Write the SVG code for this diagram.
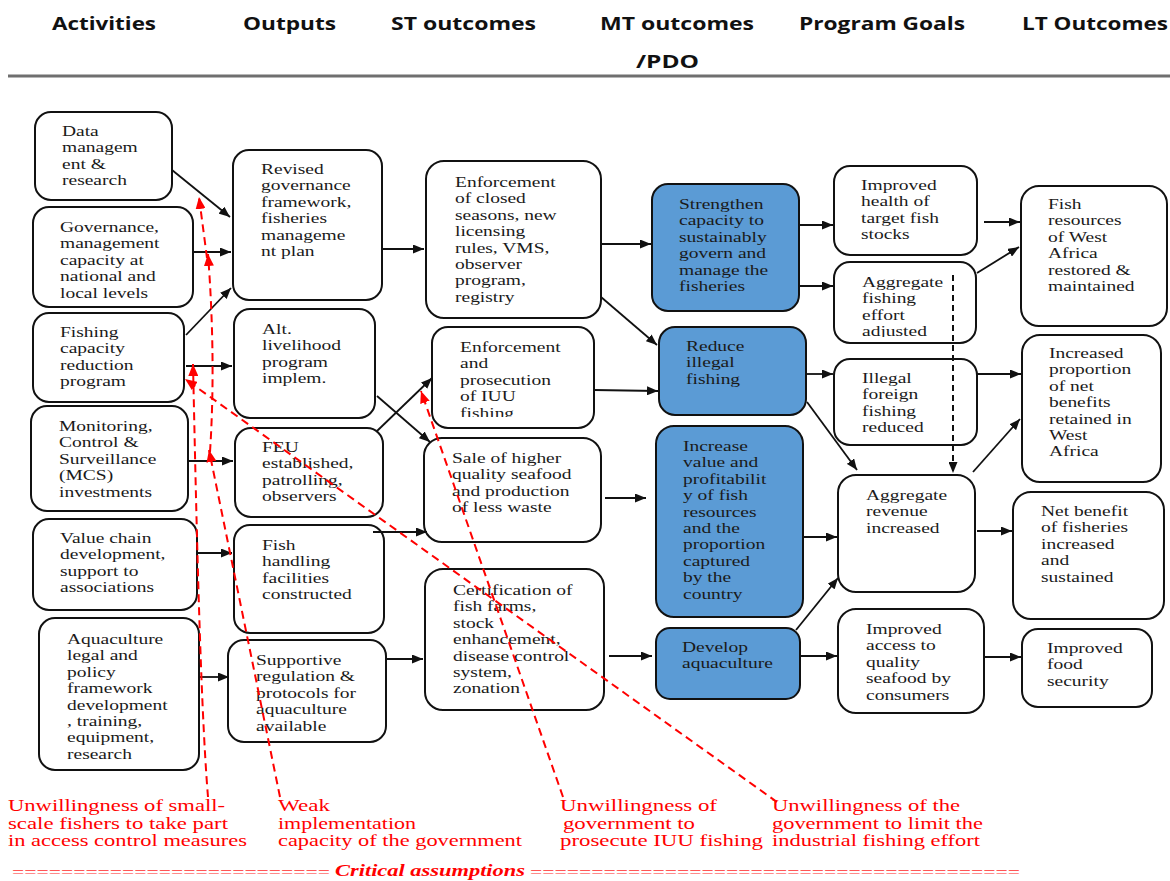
<svg xmlns="http://www.w3.org/2000/svg" width="1170" height="881" viewBox="0 0 1170 881">
<style>
.bx{fill:#fff;stroke:#111;stroke-width:2}
.bl{fill:#5b9bd5;stroke:#111;stroke-width:2}
.t{font-family:"Liberation Serif","Times New Roman",serif;font-size:15px;fill:#1a1a1a}
.hd{font-family:"Open Sans","Liberation Sans",sans-serif;font-size:18px;font-weight:bold;fill:#111}
.ar{fill:none;stroke:#111;stroke-width:1.8;marker-end:url(#ah)}
.dk{fill:none;stroke:#111;stroke-width:2;stroke-dasharray:6 4;marker-end:url(#ah)}
.rd{fill:none;stroke:#ff0000;stroke-width:2;stroke-dasharray:8 5;marker-end:url(#rh)}
.rt{font-family:"Liberation Serif","Times New Roman",serif;font-size:16px;fill:#ff0000}
.eq{font-family:"Liberation Serif","Times New Roman",serif;font-size:15px;fill:#ff3030}
</style>
<defs>
<marker id="ah" markerUnits="userSpaceOnUse" markerWidth="11" markerHeight="9" refX="11" refY="4.5" orient="auto"><path d="M0,0 L11,4.5 L0,9 z" fill="#111"/></marker>
<marker id="rh" markerUnits="userSpaceOnUse" markerWidth="12" markerHeight="10" refX="12" refY="5" orient="auto"><path d="M0,0 L12,5 L0,10 z" fill="#ff0000"/></marker>
<clipPath id="c13"><rect x="430" y="325" width="170" height="92"/></clipPath>
<clipPath id="c21"><rect x="830" y="260" width="150" height="77"/></clipPath>
</defs>
<rect x="0" y="0" width="1170" height="881" fill="#fff"/>
<g id="header">
<text class="hd" x="52" y="30" textLength="104" lengthAdjust="spacingAndGlyphs">Activities</text>
<text class="hd" x="243" y="30" textLength="93" lengthAdjust="spacingAndGlyphs">Outputs</text>
<text class="hd" x="391" y="30" textLength="145" lengthAdjust="spacingAndGlyphs">ST outcomes</text>
<text class="hd" x="600" y="30" textLength="154" lengthAdjust="spacingAndGlyphs">MT outcomes</text>
<text class="hd" x="799" y="30" textLength="166" lengthAdjust="spacingAndGlyphs">Program Goals</text>
<text class="hd" x="1022" y="30" textLength="146" lengthAdjust="spacingAndGlyphs">LT Outcomes</text>
<text class="hd" x="636" y="68" textLength="63" lengthAdjust="spacingAndGlyphs">/PDO</text>
<line x1="8" y1="76" x2="1170" y2="76" stroke="#6f6f6f" stroke-width="3"/>
</g>
<g id="n1"><rect class="bx" x="35" y="112" width="137" height="88" rx="16"/><g transform="translate(62,136) scale(1.3,1)"><text class="t"><tspan x="0" y="0">Data</tspan><tspan x="0" dy="16.4">managem</tspan><tspan x="0" dy="16.4">ent &amp;</tspan><tspan x="0" dy="16.4">research</tspan></text></g></g>
<g id="n2"><rect class="bx" x="33" y="207" width="160" height="100" rx="16"/><g transform="translate(60,232) scale(1.3,1)"><text class="t"><tspan x="0" y="0">Governance,</tspan><tspan x="0" dy="16.4">management</tspan><tspan x="0" dy="16.4">capacity at</tspan><tspan x="0" dy="16.4">national and</tspan><tspan x="0" dy="16.4">local levels</tspan></text></g></g>
<g id="n3"><rect class="bx" x="33" y="313" width="151" height="89" rx="16"/><g transform="translate(60,337) scale(1.3,1)"><text class="t"><tspan x="0" y="0">Fishing</tspan><tspan x="0" dy="16.4">capacity</tspan><tspan x="0" dy="16.4">reduction</tspan><tspan x="0" dy="16.4">program</tspan></text></g></g>
<g id="n4"><rect class="bx" x="31" y="406" width="157" height="105" rx="16"/><g transform="translate(59,431) scale(1.3,1)"><text class="t"><tspan x="0" y="0">Monitoring,</tspan><tspan x="0" dy="16.4">Control &amp;</tspan><tspan x="0" dy="16.4">Surveillance</tspan><tspan x="0" dy="16.4">(MCS)</tspan><tspan x="0" dy="16.4">investments</tspan></text></g></g>
<g id="n5"><rect class="bx" x="33" y="519" width="164" height="91" rx="16"/><g transform="translate(60,543) scale(1.3,1)"><text class="t"><tspan x="0" y="0">Value chain</tspan><tspan x="0" dy="16.4">development,</tspan><tspan x="0" dy="16.4">support to</tspan><tspan x="0" dy="16.4">associations</tspan></text></g></g>
<g id="n6"><rect class="bx" x="39" y="618" width="160" height="152" rx="16"/><g transform="translate(67,644) scale(1.3,1)"><text class="t"><tspan x="0" y="0">Aquaculture</tspan><tspan x="0" dy="16.4">legal and</tspan><tspan x="0" dy="16.4">policy</tspan><tspan x="0" dy="16.4">framework</tspan><tspan x="0" dy="16.4">development</tspan><tspan x="0" dy="16.4">, training,</tspan><tspan x="0" dy="16.4">equipment,</tspan><tspan x="0" dy="16.4">research</tspan></text></g></g>
<g id="n7"><rect class="bx" x="233" y="150" width="149" height="150" rx="16"/><g transform="translate(261,174) scale(1.3,1)"><text class="t"><tspan x="0" y="0">Revised</tspan><tspan x="0" dy="16.4">governance</tspan><tspan x="0" dy="16.4">framework,</tspan><tspan x="0" dy="16.4">fisheries</tspan><tspan x="0" dy="16.4">manageme</tspan><tspan x="0" dy="16.4">nt plan</tspan></text></g></g>
<g id="n8"><rect class="bx" x="234" y="309" width="141" height="109" rx="16"/><g transform="translate(262,334) scale(1.3,1)"><text class="t"><tspan x="0" y="0">Alt.</tspan><tspan x="0" dy="16.4">livelihood</tspan><tspan x="0" dy="16.4">program</tspan><tspan x="0" dy="16.4">implem.</tspan></text></g></g>
<g id="n9"><rect class="bx" x="235" y="428" width="148" height="89" rx="16"/><g transform="translate(262,452) scale(1.3,1)"><text class="t"><tspan x="0" y="0">FEU</tspan><tspan x="0" dy="16.4">established,</tspan><tspan x="0" dy="16.4">patrolling,</tspan><tspan x="0" dy="16.4">observers</tspan></text></g></g>
<g id="n10"><rect class="bx" x="234" y="525" width="150" height="108" rx="16"/><g transform="translate(262,550) scale(1.3,1)"><text class="t"><tspan x="0" y="0">Fish</tspan><tspan x="0" dy="16.4">handling</tspan><tspan x="0" dy="16.4">facilities</tspan><tspan x="0" dy="16.4">constructed</tspan></text></g></g>
<g id="n11"><rect class="bx" x="228" y="640" width="158" height="102" rx="16"/><g transform="translate(256,665) scale(1.3,1)"><text class="t"><tspan x="0" y="0">Supportive</tspan><tspan x="0" dy="16.4">regulation &amp;</tspan><tspan x="0" dy="16.4">protocols for</tspan><tspan x="0" dy="16.4">aquaculture</tspan><tspan x="0" dy="16.4">available</tspan></text></g></g>
<g id="n12"><rect class="bx" x="426" y="161" width="175" height="157" rx="18"/><g transform="translate(455,187) scale(1.3,1)"><text class="t"><tspan x="0" y="0">Enforcement</tspan><tspan x="0" dy="16.4">of closed</tspan><tspan x="0" dy="16.4">seasons, new</tspan><tspan x="0" dy="16.4">licensing</tspan><tspan x="0" dy="16.4">rules, VMS,</tspan><tspan x="0" dy="16.4">observer</tspan><tspan x="0" dy="16.4">program,</tspan><tspan x="0" dy="16.4">registry</tspan></text></g></g>
<g id="n13"><rect class="bx" x="432" y="327" width="162" height="101" rx="16"/><g clip-path="url(#c13)"><g transform="translate(460,352) scale(1.3,1)"><text class="t"><tspan x="0" y="0">Enforcement</tspan><tspan x="0" dy="16.4">and</tspan><tspan x="0" dy="16.4">prosecution</tspan><tspan x="0" dy="16.4">of IUU</tspan><tspan x="0" dy="16.4">fishing</tspan></text></g></g></g>
<g id="n14"><rect class="bx" x="424" y="438" width="177" height="104" rx="18"/><g transform="translate(452,463) scale(1.3,1)"><text class="t"><tspan x="0" y="0">Sale of higher</tspan><tspan x="0" dy="16.4">quality seafood</tspan><tspan x="0" dy="16.4">and production</tspan><tspan x="0" dy="16.4">of less waste</tspan></text></g></g>
<g id="n15"><rect class="bx" x="425" y="569" width="179" height="141" rx="18"/><g transform="translate(453,595) scale(1.3,1)"><text class="t"><tspan x="0" y="0">Certification of</tspan><tspan x="0" dy="16.4">fish farms,</tspan><tspan x="0" dy="16.4">stock</tspan><tspan x="0" dy="16.4">enhancement,</tspan><tspan x="0" dy="16.4">disease control</tspan><tspan x="0" dy="16.4">system,</tspan><tspan x="0" dy="16.4">zonation</tspan></text></g></g>
<g id="n16"><rect class="bl" x="652" y="184" width="147" height="127" rx="16"/><g transform="translate(679,209) scale(1.3,1)"><text class="t"><tspan x="0" y="0">Strengthen</tspan><tspan x="0" dy="16.4">capacity to</tspan><tspan x="0" dy="16.4">sustainably</tspan><tspan x="0" dy="16.4">govern and</tspan><tspan x="0" dy="16.4">manage the</tspan><tspan x="0" dy="16.4">fisheries</tspan></text></g></g>
<g id="n17"><rect class="bl" x="659" y="327" width="147" height="88" rx="16"/><g transform="translate(686,351) scale(1.3,1)"><text class="t"><tspan x="0" y="0">Reduce</tspan><tspan x="0" dy="16.4">illegal</tspan><tspan x="0" dy="16.4">fishing</tspan></text></g></g>
<g id="n18"><rect class="bl" x="656" y="426" width="147" height="191" rx="18"/><g transform="translate(683,451) scale(1.3,1)"><text class="t"><tspan x="0" y="0">Increase</tspan><tspan x="0" dy="16.4">value and</tspan><tspan x="0" dy="16.4">profitabilit</tspan><tspan x="0" dy="16.4">y of fish</tspan><tspan x="0" dy="16.4">resources</tspan><tspan x="0" dy="16.4">and the</tspan><tspan x="0" dy="16.4">proportion</tspan><tspan x="0" dy="16.4">captured</tspan><tspan x="0" dy="16.4">by the</tspan><tspan x="0" dy="16.4">country</tspan></text></g></g>
<g id="n19"><rect class="bl" x="656" y="628" width="144" height="71" rx="14"/><g transform="translate(682,652) scale(1.3,1)"><text class="t"><tspan x="0" y="0">Develop</tspan><tspan x="0" dy="16.4">aquaculture</tspan></text></g></g>
<g id="n20"><rect class="bx" x="834" y="166" width="143" height="89" rx="16"/><g transform="translate(861,190) scale(1.3,1)"><text class="t"><tspan x="0" y="0">Improved</tspan><tspan x="0" dy="16.4">health of</tspan><tspan x="0" dy="16.4">target fish</tspan><tspan x="0" dy="16.4">stocks</tspan></text></g></g>
<g id="n21"><rect class="bx" x="834" y="262" width="142" height="81" rx="16"/><g clip-path="url(#c21)"><g transform="translate(862,287) scale(1.3,1)"><text class="t"><tspan x="0" y="0">Aggregate</tspan><tspan x="0" dy="16.4">fishing</tspan><tspan x="0" dy="16.4">effort</tspan><tspan x="0" dy="16.4">adjusted</tspan></text></g></g></g>
<g id="n22"><rect class="bx" x="834" y="359" width="143" height="86" rx="16"/><g transform="translate(862,383) scale(1.3,1)"><text class="t"><tspan x="0" y="0">Illegal</tspan><tspan x="0" dy="16.4">foreign</tspan><tspan x="0" dy="16.4">fishing</tspan><tspan x="0" dy="16.4">reduced</tspan></text></g></g>
<g id="n23"><rect class="bx" x="838" y="475" width="137" height="117" rx="18"/><g transform="translate(866,500) scale(1.3,1)"><text class="t"><tspan x="0" y="0">Aggregate</tspan><tspan x="0" dy="16.4">revenue</tspan><tspan x="0" dy="16.4">increased</tspan></text></g></g>
<g id="n24"><rect class="bx" x="838" y="609" width="146" height="104" rx="18"/><g transform="translate(866,634) scale(1.3,1)"><text class="t"><tspan x="0" y="0">Improved</tspan><tspan x="0" dy="16.4">access to</tspan><tspan x="0" dy="16.4">quality</tspan><tspan x="0" dy="16.4">seafood by</tspan><tspan x="0" dy="16.4">consumers</tspan></text></g></g>
<g id="n25"><rect class="bx" x="1021" y="186" width="146" height="140" rx="18"/><g transform="translate(1048,209) scale(1.3,1)"><text class="t"><tspan x="0" y="0">Fish</tspan><tspan x="0" dy="16.4">resources</tspan><tspan x="0" dy="16.4">of West</tspan><tspan x="0" dy="16.4">Africa</tspan><tspan x="0" dy="16.4">restored &amp;</tspan><tspan x="0" dy="16.4">maintained</tspan></text></g></g>
<g id="n26"><rect class="bx" x="1022" y="335" width="139" height="147" rx="18"/><g transform="translate(1049,358) scale(1.3,1)"><text class="t"><tspan x="0" y="0">Increased</tspan><tspan x="0" dy="16.4">proportion</tspan><tspan x="0" dy="16.4">of net</tspan><tspan x="0" dy="16.4">benefits</tspan><tspan x="0" dy="16.4">retained in</tspan><tspan x="0" dy="16.4">West</tspan><tspan x="0" dy="16.4">Africa</tspan></text></g></g>
<g id="n27"><rect class="bx" x="1013" y="492" width="151" height="127" rx="18"/><g transform="translate(1041,516) scale(1.3,1)"><text class="t"><tspan x="0" y="0">Net benefit</tspan><tspan x="0" dy="16.4">of fisheries</tspan><tspan x="0" dy="16.4">increased</tspan><tspan x="0" dy="16.4">and</tspan><tspan x="0" dy="16.4">sustained</tspan></text></g></g>
<g id="n28"><rect class="bx" x="1022" y="629" width="130" height="78" rx="16"/><g transform="translate(1047,653) scale(1.3,1)"><text class="t"><tspan x="0" y="0">Improved</tspan><tspan x="0" dy="16.4">food</tspan><tspan x="0" dy="16.4">security</tspan></text></g></g>
<g id="connectors">
<path class="ar" d="M172,170 L230,217"/>
<path class="ar" d="M193,252 L231,252"/>
<path class="ar" d="M186,335 L231,288"/>
<path class="ar" d="M186,366 L232,366"/>
<path class="ar" d="M382,249 L424,249"/>
<path class="ar" d="M188,461 L233,461"/>
<path class="ar" d="M197,553 L232,553"/>
<path class="ar" d="M199,677 L229,677"/>
<path class="ar" d="M386,659 L423,659"/>
<path class="ar" d="M377,396 L430,442"/>
<path class="ar" d="M377,431 L432,378"/>
<path class="ar" d="M373,532 L427,532"/>
<path class="ar" d="M601,244 L651,244"/>
<path class="ar" d="M601,297 L657,345"/>
<path class="ar" d="M594,390 L658,391"/>
<path class="ar" d="M605,498 L646,498"/>
<path class="ar" d="M609,656 L652,656"/>
<path class="ar" d="M799,225 L833,225"/>
<path class="ar" d="M799,286 L833,286"/>
<path class="ar" d="M806,374 L833,374"/>
<path class="ar" d="M807,402 L857,470"/>
<path class="dk" d="M953,275 L953,473"/>
<path class="ar" d="M973,472 L1020,419"/>
<path class="ar" d="M984,222 L1020,222"/>
<path class="ar" d="M977,273 L1019,247"/>
<path class="ar" d="M977,374 L1021,374"/>
<path class="ar" d="M803,537 L837,537"/>
<path class="ar" d="M796,630 L838,578"/>
<path class="ar" d="M977,531 L1012,531"/>
<path class="ar" d="M800,656 L837,656"/>
<path class="ar" d="M984,657 L1021,657"/>
</g>
<g id="assumptions">
<path class="rd" d="M208,797 C200,700 196,500 193,364"/>
<path class="rd" d="M280,797 L209,450"/>
<path class="rd" d="M210,452 Q216,360 208,254"/>
<path class="rd" d="M207,258 L199,197"/>
<path class="rd" d="M563,797 L421,391"/>
<path class="rd" d="M777,802 L185,379"/>
<text class="rt" x="8" y="811" textLength="217" lengthAdjust="spacingAndGlyphs">Unwillingness of small-</text>
<text class="rt" x="8" y="828.5" textLength="220" lengthAdjust="spacingAndGlyphs">scale fishers to take part</text>
<text class="rt" x="8" y="846" textLength="239" lengthAdjust="spacingAndGlyphs">in access control measures</text>
<text class="rt" x="278" y="811" textLength="52" lengthAdjust="spacingAndGlyphs">Weak</text>
<text class="rt" x="278" y="828.5" textLength="138" lengthAdjust="spacingAndGlyphs">implementation</text>
<text class="rt" x="278" y="846" textLength="244" lengthAdjust="spacingAndGlyphs">capacity of the government</text>
<text class="rt" x="560" y="811" textLength="157" lengthAdjust="spacingAndGlyphs">Unwillingness of</text>
<text class="rt" x="563" y="828.5" textLength="132" lengthAdjust="spacingAndGlyphs">government to</text>
<text class="rt" x="560" y="846" textLength="203" lengthAdjust="spacingAndGlyphs">prosecute IUU fishing</text>
<text class="rt" x="772" y="811" textLength="188" lengthAdjust="spacingAndGlyphs">Unwillingness of the</text>
<text class="rt" x="772" y="828.5" textLength="211" lengthAdjust="spacingAndGlyphs">government to limit the</text>
<text class="rt" x="772" y="846" textLength="208" lengthAdjust="spacingAndGlyphs">industrial fishing effort</text>
<text class="eq" x="12" y="877" textLength="318" lengthAdjust="spacingAndGlyphs">==========================</text>
<text class="rt" x="335" y="876" textLength="190" lengthAdjust="spacingAndGlyphs" font-size="15" font-weight="bold" font-style="italic">Critical assumptions</text>
<text class="eq" x="530" y="877" textLength="490" lengthAdjust="spacingAndGlyphs">========================================</text>
</g>
</svg>
